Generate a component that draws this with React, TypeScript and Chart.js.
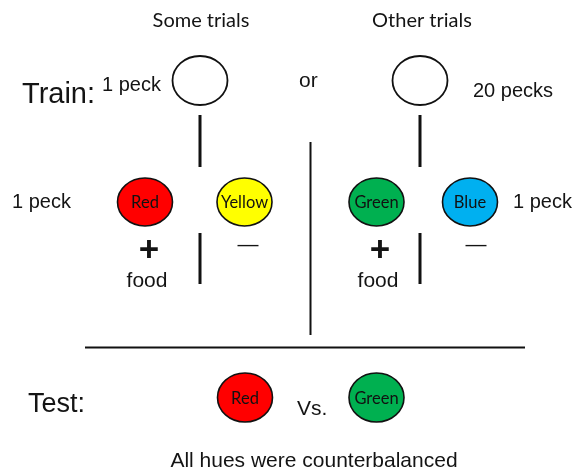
import React, { useEffect, useRef } from 'react';
import { Chart, registerables } from 'chart.js';

Chart.register(...registerables);

// Ovals (stimulus keys)
const ovalLabels = ['', '', 'Red', 'Yellow', 'Green', 'Blue', 'Red', 'Green'];
const ovalX = [200, 420, 145, 244.5, 376.5, 470, 245, 376.5];
const ovalY = [80.5, 80.5, 202, 202, 202, 202, 397.5, 397.5];
const ovalFill = ['#ffffff', '#ffffff', '#ff0000', '#ffff00', '#00b050', '#00b0f0', '#ff0000', '#00b050'];

// Line segments
const segX1 = [200, 420, 310.5, 200, 420, 85];
const segY1 = [115, 115, 142, 233, 233, 347.5];
const segX2 = [200, 420, 310.5, 200, 420, 525];
const segY2 = [167, 167, 335, 284, 284, 347.5];

// Text labels
const textLabels = [
  'Some trials', 'Other trials', 'Train:', '1 peck', 'or', '20 pecks',
  '1 peck', '1 peck', '+', 'food', '\u2014', '+', 'food', '\u2014',
  'Test:', 'Vs.', 'All hues were counterbalanced',
];
const textX = [201, 422, 22, 102, 299, 473, 12, 513, 149, 147, 248, 380, 378, 476, 28, 297, 314];
const textY = [27, 27, 103, 91, 87, 97, 208, 208, 261, 287, 251, 261, 287, 251, 412, 415, 467];

// styles (kept separate from data)
const segWidth = [3, 3, 2, 3, 3, 2.2];
const textAlign: CanvasTextAlign[] = [
  'center', 'center', 'left', 'left', 'left', 'left', 'left', 'left',
  'center', 'center', 'center', 'center', 'center', 'center', 'left', 'left', 'center',
];
const textFont = [
  '20px Lato', '20px Lato', '29px "Liberation Sans"', '20px "Liberation Sans"', '21px "Liberation Sans"',
  '20px "Liberation Sans"', '20px "Liberation Sans"', '20px "Liberation Sans"',
  'bold 35px "Liberation Sans"', '21px "Liberation Sans"', '21px "Liberation Sans"',
  'bold 35px "Liberation Sans"', '21px "Liberation Sans"', '21px "Liberation Sans"',
  '27px "Liberation Sans"', '21px "Liberation Sans"', '21px "Liberation Sans"',
];
const textColor = '#141414';

const diagramPlugin = {
  id: 'diagram',
  afterDatasetsDraw(chart: any) {
    const ctx: CanvasRenderingContext2D = chart.ctx;
    const xs = chart.scales.x;
    const ys = chart.scales.y;
    const meta = chart.getDatasetMeta(0);
    ctx.save();
    meta.data.forEach((el: any, i: number) => {
      const cx = el.x;
      const cy = el.y;
      const rx = 27.5;
      const ry = i >= 6 ? 24.5 : i < 2 ? 24.5 : 24;
      ctx.beginPath();
      ctx.ellipse(cx, cy, rx, ry, 0, 0, Math.PI * 2);
      ctx.fillStyle = ovalFill[i];
      ctx.fill();
      ctx.lineWidth = i < 2 ? 1.8 : 1.6;
      ctx.strokeStyle = '#111111';
      ctx.stroke();
      if (ovalLabels[i]) {
        ctx.fillStyle = '#111111';
        ctx.font = '16.5px Lato';
        ctx.textAlign = 'center';
        ctx.textBaseline = 'alphabetic';
        ctx.fillText(ovalLabels[i], cx, cy + 6);
      }
    });
    textLabels.forEach((t, i) => {
      ctx.fillStyle = textColor;
      ctx.font = textFont[i];
      ctx.textAlign = textAlign[i];
      ctx.textBaseline = 'alphabetic';
      ctx.fillText(t, xs.getPixelForValue(textX[i]), ys.getPixelForValue(textY[i]));
    });
    ctx.restore();
  },
};

export default function App() {
  const ref = useRef<HTMLCanvasElement | null>(null);
  useEffect(() => {
    document.body.style.margin = '0';
    document.body.style.background = '#ffffff';
    if (!ref.current) return;
    const datasets: any[] = [
      {
        label: 'ovals',
        data: ovalX.map((x, i) => ({ x, y: ovalY[i] })),
        pointRadius: 0,
        pointHoverRadius: 0,
        showLine: false,
      },
    ];
    segX1.forEach((x1, i) => {
      datasets.push({
        label: 'seg' + i,
        data: [
          { x: x1, y: segY1[i] },
          { x: segX2[i], y: segY2[i] },
        ],
        showLine: true,
        borderColor: '#111111',
        borderWidth: segWidth[i],
        pointRadius: 0,
        pointHoverRadius: 0,
        borderCapStyle: 'butt',
      });
    });
    const chart = new Chart(ref.current, {
      type: 'scatter',
      data: { datasets },
      options: {
        animation: false,
        responsive: false,
        maintainAspectRatio: false,
        layout: { padding: 0 },
        plugins: { legend: { display: false }, tooltip: { enabled: false } },
        scales: {
          x: { type: 'linear', min: 0, max: 576, display: false },
          y: { type: 'linear', min: 0, max: 469, reverse: true, display: false },
        },
      },
      plugins: [diagramPlugin],
    });
    return () => chart.destroy();
  }, []);
  return (
    <div style={{ width: 576, height: 469, background: '#fff' }}>
      <canvas ref={ref} width={576} height={469} style={{ display: 'block' }} />
    </div>
  );
}
